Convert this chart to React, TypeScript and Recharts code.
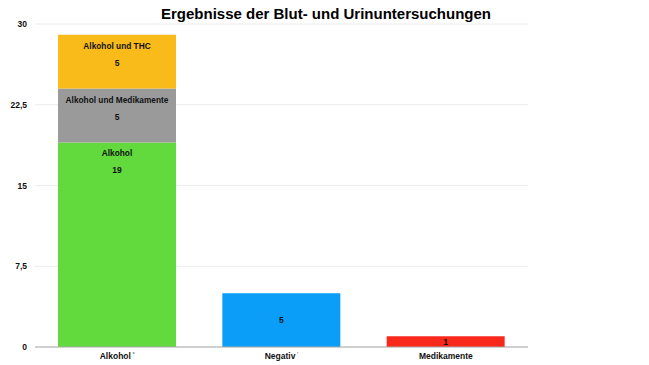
import React from 'react';
import { BarChart, Bar, XAxis, YAxis, CartesianGrid, LabelList } from 'recharts';

const categories = ['Alkohol', 'Negativ', 'Medikamente'];
const tickMarks = ['*', "'", ''];
const alkohol = [19, 0, 0];
const alkoholMedikamente = [5, 0, 0];
const alkoholThc = [5, 0, 0];
const negativ = [0, 5, 0];
const medikamente = [0, 0, 1];
const yTicks = [0, 7.5, 15, 22.5, 30];

const data = categories.map((c, i) => ({
  name: c,
  alkohol: alkohol[i],
  alkoholMedikamente: alkoholMedikamente[i],
  alkoholThc: alkoholThc[i],
  negativ: negativ[i],
  medikamente: medikamente[i],
}));

const FONT = '"Liberation Sans", Arial, Helvetica, sans-serif';

function namedLabel(title: string) {
  return (props: any) => {
    const { x, y, width, value } = props;
    if (!value) return null;
    const cx = x + width / 2;
    return (
      <g>
        <text x={cx} y={y + 14} textAnchor="middle" fontSize={8.3} fontWeight="bold" fill="#111" fontFamily={FONT}>
          {title}
        </text>
        <text x={cx} y={y + 31} textAnchor="middle" fontSize={8.5} fontWeight="bold" fill="#111" fontFamily={FONT}>
          {value}
        </text>
      </g>
    );
  };
}

function centerLabel(props: any) {
  const { x, y, width, height, value } = props;
  if (!value) return null;
  return (
    <text x={x + width / 2} y={y + height / 2 + 3} textAnchor="middle" fontSize={8.5} fontWeight="bold" fill="#111" fontFamily={FONT}>
      {value}
    </text>
  );
}

function CategoryTick(props: any) {
  const { x, y, payload, index } = props;
  const mark = tickMarks[index] || '';
  return (
    <text x={x} y={y + 4} textAnchor="middle" fontSize={8.5} fontWeight="bold" fill="#111" fontFamily={FONT}>
      {payload.value}
      {mark && (
        <tspan fontSize={5.5} dy={-3.5} fill="#777">
          {' ' + mark}
        </tspan>
      )}
    </text>
  );
}

export default function App() {
  return (
    <div style={{ position: 'absolute', left: 0, top: 0, width: 649, height: 365, background: '#fff' }}>
      <div
        style={{
          position: 'absolute',
          left: 0,
          top: 5,
          width: 652,
          textAlign: 'center',
          fontFamily: FONT,
          fontWeight: 'bold',
          fontSize: 15,
          color: '#000',
        }}
      >
        Ergebnisse der Blut- und Urinuntersuchungen
      </div>
      <BarChart
        width={649}
        height={365}
        data={data}
        margin={{ top: 24, right: 121, left: 0, bottom: 0 }}
        barCategoryGap="14%"
      >
        <CartesianGrid vertical={false} stroke="#ececec" />
        <XAxis
          dataKey="name"
          height={18}
          tickLine={false}
          axisLine={{ stroke: '#aaa' }}
          tick={<CategoryTick />}
          interval={0}
        />
        <YAxis
          width={35}
          domain={[0, 30]}
          ticks={yTicks}
          axisLine={false}
          tickLine={false}
          tickFormatter={(v: number) => String(v).replace('.', ',')}
          tick={{ fontSize: 8.5, fontWeight: 'bold', fill: '#111', fontFamily: FONT }}
        />
        <Bar dataKey="alkohol" stackId="a" fill="#62d93c" isAnimationActive={false}>
          <LabelList dataKey="alkohol" content={namedLabel('Alkohol')} />
        </Bar>
        <Bar dataKey="alkoholMedikamente" stackId="a" fill="#9a9a9a" isAnimationActive={false}>
          <LabelList dataKey="alkoholMedikamente" content={namedLabel('Alkohol und Medikamente')} />
        </Bar>
        <Bar dataKey="alkoholThc" stackId="a" fill="#f9bb1a" isAnimationActive={false}>
          <LabelList dataKey="alkoholThc" content={namedLabel('Alkohol und THC')} />
        </Bar>
        <Bar dataKey="negativ" stackId="a" fill="#0a9ef8" isAnimationActive={false}>
          <LabelList dataKey="negativ" content={centerLabel} />
        </Bar>
        <Bar dataKey="medikamente" stackId="a" fill="#f8291b" isAnimationActive={false}>
          <LabelList dataKey="medikamente" content={centerLabel} />
        </Bar>
      </BarChart>
    </div>
  );
}
